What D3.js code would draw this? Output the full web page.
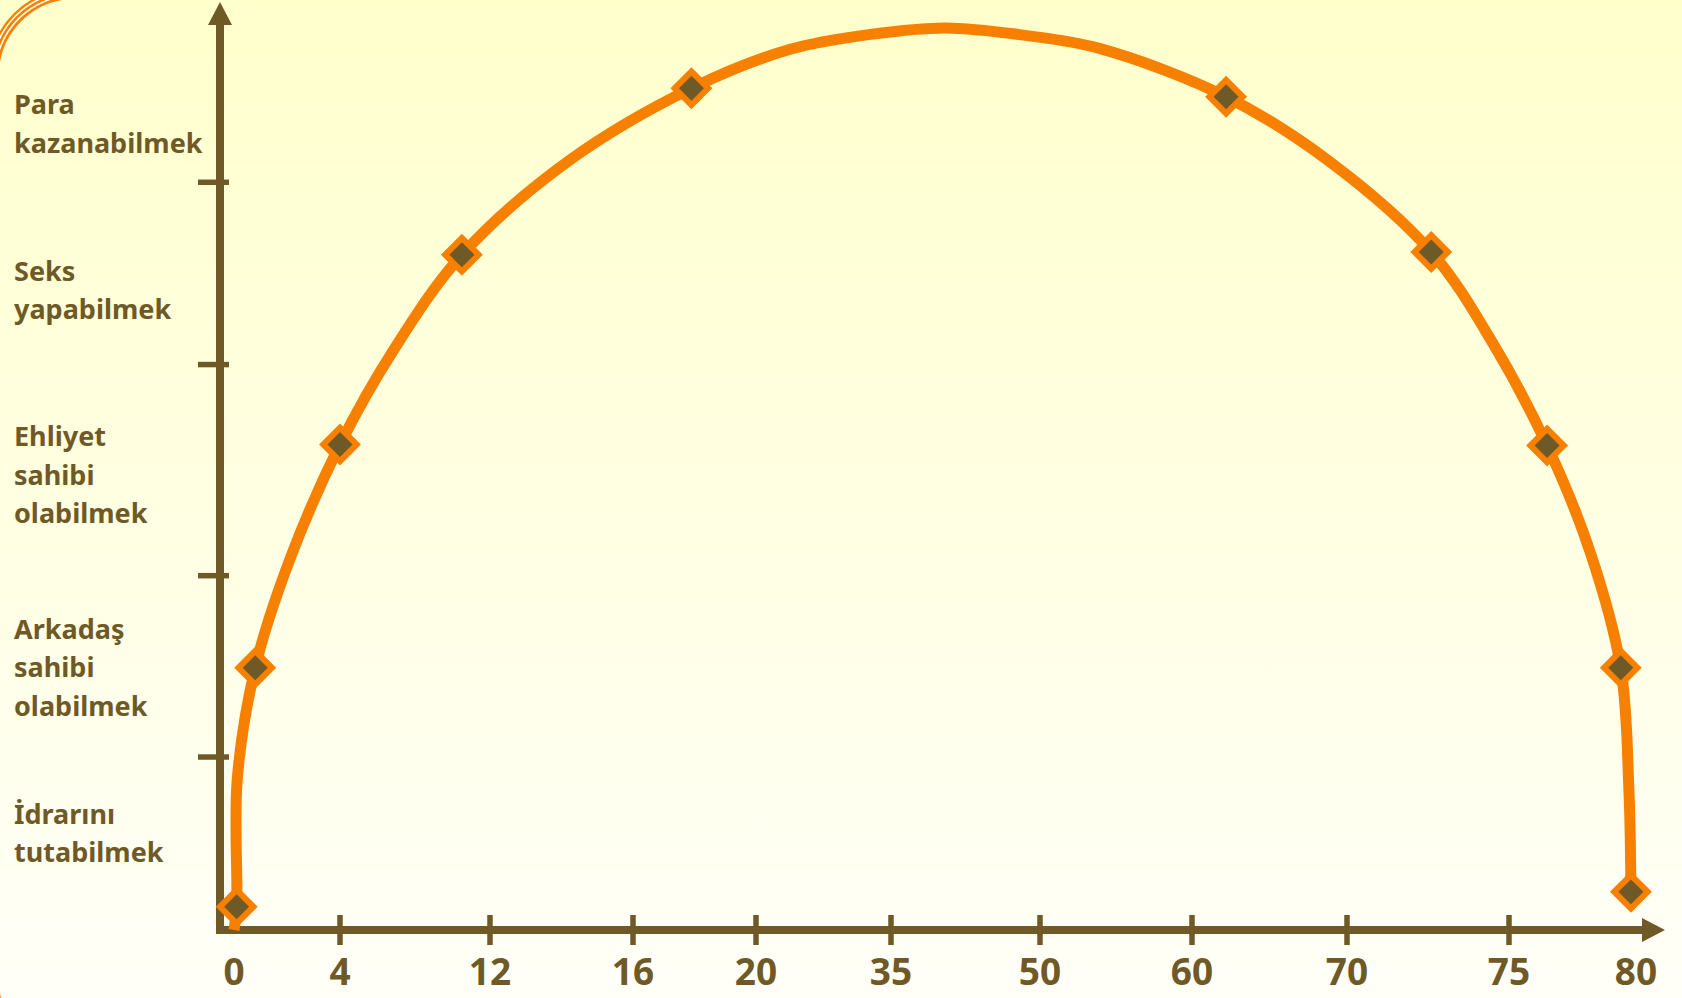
<!DOCTYPE html>
<html>
<head>
<meta charset="utf-8">
<script src="https://cdn.jsdelivr.net/npm/d3@7"></script>
<style>
body { margin: 0; background: #fffff0; }
svg { display: block; }
</style>
</head>
<body>
<script>
// categories on the vertical axis, bottom to top
let yCategories = ["İdrarını tutabilmek", "Arkadaş sahibi olabilmek", "Ehliyet sahibi olabilmek", "Seks yapabilmek", "Para kazanabilmek"];
let categoryLevels = [10.4, 28.2, 48.9, 68.8, 86.7];
let yTickLevels = [18.6, 38.1, 60.8, 80.4];

// ages on the horizontal axis
let xTickAges = [0, 4, 12, 16, 20, 35, 50, 60, 70, 75, 80];

// the diamonds
let markerAges = [0.1, 0.8, 4, 10.5, 17.9, 62.2, 72.6, 76.5, 79.4, 79.8];
let markerLevels = [2.5, 28.2, 52.2, 72.6, 90.5, 89.6, 72.9, 52.1, 28.2, 4.1];

// the arc
let curveAges = [0, 0.1, 0.12, 0.8, 2.1, 4, 6.9, 10.5, 14.2, 17.9, 23.8, 32.7, 40.5,
                 48.5, 53.9, 62.2, 68.9, 72.6, 74.5, 76.5, 78.2, 79.4, 79.72, 79.8];
let curveLevels = [0, 2.5, 16.1, 28.2, 39.8, 52.2, 62.5, 72.6, 82.7, 90.5, 94.7, 96.3, 97.0,
                   96.2, 94.8, 89.6, 82.6, 72.9, 63.1, 52.1, 40.6, 28.2, 15.1, 4.1];

let width = 1682;
let height = 998;
let brown = "#6f5a27";
let orange = "#f88000";
let cream = "#fffff2";
let font = "'Noto Sans', 'Open Sans', sans-serif";

let svg = d3.select("body")
            .append("svg")
            .attr("width", width)
            .attr("height", height);

// scales: the age axis is not evenly spaced in the picture
let xScale = d3.scaleLinear()
    .domain(xTickAges)
    .range([234, 340, 490, 633, 756, 891, 1040, 1192, 1347, 1509, 1636]);

let yScale = d3.scaleLinear()
    .domain([0, 100])
    .range([930, 0]);

// background
let grad = svg.append("defs").append("linearGradient")
    .attr("id", "bg")
    .attr("x1", 0).attr("y1", 0)
    .attr("x2", 0).attr("y2", 1);
grad.append("stop").attr("offset", "0%").attr("stop-color", "#ffffcc");
grad.append("stop").attr("offset", "100%").attr("stop-color", "#fffff8");

svg.append("rect")
    .attr("width", width)
    .attr("height", height)
    .attr("fill", "url(#bg)");

// rounded frame, only its corners show
function frame(d, color, w) {
    svg.append("rect")
        .attr("x", -6.5 - d)
        .attr("y", -6.5 - d)
        .attr("width", 1772 + 2 * d)
        .attr("height", 1068 + 2 * d)
        .attr("rx", 81.5 + d)
        .attr("fill", "none")
        .style("stroke", color)
        .style("stroke-width", w);
}
frame(0, orange, 11);
frame(2.3, cream, 1.6);
frame(-1.8, cream, 1.6);

// axes
let axes = svg.append("g");
axes.append("line")
    .attr("x1", 216).attr("y1", yScale(0))
    .attr("x2", 1645).attr("y2", yScale(0))
    .style("stroke", brown)
    .style("stroke-width", 8);
axes.append("path")
    .attr("d", `M1642,${yScale(0) - 12} L1665,${yScale(0)} L1642,${yScale(0) + 12} Z`)
    .attr("fill", brown);

axes.append("line")
    .attr("x1", 220).attr("y1", yScale(0) + 4)
    .attr("x2", 220).attr("y2", 22)
    .style("stroke", brown)
    .style("stroke-width", 8);
axes.append("path")
    .attr("d", "M208,25 L220,2 L232,25 Z")
    .attr("fill", brown);

// ticks
axes.selectAll(".xtick")
    .data(xTickAges.filter(a => a > 0 && a < 80))
    .join("line")
    .attr("class", "xtick")
    .attr("x1", d => xScale(d)).attr("x2", d => xScale(d))
    .attr("y1", yScale(0) - 15).attr("y2", yScale(0) + 15)
    .style("stroke", brown)
    .style("stroke-width", 5.5);

axes.selectAll(".ytick")
    .data(yTickLevels)
    .join("line")
    .attr("class", "ytick")
    .attr("x1", 198).attr("x2", 229)
    .attr("y1", d => yScale(d)).attr("y2", d => yScale(d))
    .style("stroke", brown)
    .style("stroke-width", 5.5);

// tick labels
svg.selectAll(".xlabel")
    .data(xTickAges)
    .join("text")
    .attr("class", "xlabel")
    .attr("x", d => xScale(d))
    .attr("y", 985)
    .attr("text-anchor", "middle")
    .style("font-family", font)
    .style("font-weight", 700)
    .style("font-size", "37px")
    .style("fill", brown)
    .text(d => d);

let lineGap = 38.5;
let labels = svg.selectAll(".ylabel")
    .data(yCategories)
    .join("text")
    .attr("class", "ylabel")
    .style("font-family", font)
    .style("font-weight", 700)
    .style("font-size", "27px")
    .style("fill", brown);

labels.each(function(d, i) {
    let words = d.split(" ");
    let first = yScale(categoryLevels[i]) - (words.length - 1) * lineGap / 2 + 9.6;
    d3.select(this).selectAll("tspan")
        .data(words)
        .join("tspan")
        .attr("x", 14)
        .attr("y", (w, j) => first + j * lineGap)
        .text(w => w);
});

// the arc
let curvePoints = curveAges.map((a, i) => ({age: a, level: curveLevels[i]}));
let line = d3.line()
    .x(d => xScale(d.age))
    .y(d => yScale(d.level))
    .curve(d3.curveCatmullRom.alpha(0.5));

svg.append("path")
    .attr("d", line(curvePoints))
    .attr("fill", "none")
    .style("stroke", orange)
    .style("stroke-width", 11);

// diamonds
let markers = markerAges.map((a, i) => ({age: a, level: markerLevels[i]}));
svg.selectAll(".marker")
    .data(markers)
    .join("path")
    .attr("class", "marker")
    .attr("d", d3.symbol(d3.symbolSquare, 560)())
    .attr("transform", d => `translate(${xScale(d.age)},${yScale(d.level)}) rotate(45)`)
    .attr("fill", brown)
    .style("stroke", orange)
    .style("stroke-width", 6);
</script>
</body>
</html>
